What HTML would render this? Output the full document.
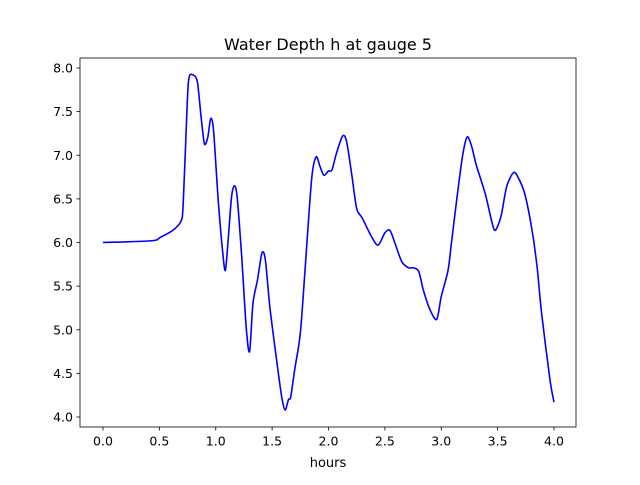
<!DOCTYPE html>
<html><head><meta charset="utf-8"><style>
body{margin:0;background:#fff}
svg text{font-family:"DejaVu Sans","Liberation Sans",sans-serif;fill:#000}
</style></head><body>
<svg id="chart" width="640" height="480" xmlns="http://www.w3.org/2000/svg">
<rect width="640" height="480" fill="#fff"/>
<text x="328" y="50" font-size="16" text-anchor="middle">Water Depth h at gauge 5</text>
<g id="ticks"></g>
<path id="line" fill="none" stroke="#0000ff" stroke-width="1.6" stroke-linejoin="round"/>
<rect x="80" y="58" width="496" height="369" fill="none" stroke="#000" stroke-width="0.8"/>
<text x="328" y="467" font-size="13" text-anchor="middle">hours</text>
</svg>
<script>
const hours=[0,0.43,0.51,0.62,0.69,0.71,0.74,0.755,0.77,0.80,0.82,0.84,0.87,0.90,0.93,0.955,0.98,1.02,1.06,1.085,1.11,1.14,1.165,1.19,1.23,1.27,1.30,1.33,1.37,1.41,1.44,1.48,1.54,1.585,1.615,1.645,1.665,1.70,1.75,1.79,1.85,1.89,1.925,1.96,2.0,2.03,2.07,2.125,2.16,2.205,2.25,2.30,2.38,2.44,2.50,2.545,2.59,2.65,2.71,2.75,2.80,2.84,2.90,2.96,3.00,3.06,3.09,3.14,3.19,3.23,3.27,3.31,3.39,3.45,3.48,3.53,3.58,3.64,3.68,3.74,3.80,3.85,3.89,3.965,4.0];
const depth=[6.0,6.02,6.06,6.14,6.24,6.41,7.37,7.8,7.92,7.92,7.9,7.82,7.44,7.13,7.21,7.42,7.29,6.52,5.91,5.68,6.03,6.52,6.65,6.52,5.84,5.03,4.75,5.30,5.57,5.88,5.80,5.26,4.65,4.23,4.08,4.20,4.23,4.54,4.96,5.65,6.72,6.98,6.87,6.77,6.82,6.83,7.02,7.22,7.16,6.79,6.39,6.28,6.07,5.97,6.11,6.14,5.99,5.78,5.71,5.71,5.67,5.46,5.23,5.12,5.38,5.68,5.99,6.52,7.00,7.21,7.10,6.89,6.56,6.23,6.14,6.30,6.64,6.80,6.75,6.56,6.18,5.72,5.19,4.42,4.17];
const xTicks=[0,0.5,1,1.5,2,2.5,3,3.5,4];
const yTicks=[4,4.5,5,5.5,6,6.5,7,7.5,8];
const X=h=>103+h*112.75, Y=v=>417-(v-4)*87.25;
const NS="http://www.w3.org/2000/svg", g=document.getElementById('ticks');
function mk(t,a){const e=document.createElementNS(NS,t);for(const k in a)e.setAttribute(k,a[k]);g.appendChild(e);return e;}
xTicks.forEach(t=>{
 const l=mk('line',{x1:X(t),x2:X(t),y1:427,y2:430.5,stroke:'#000','stroke-width':0.8});
 
 
 const s=mk('text',{x:X(t),y:445.5,'font-size':12.5,'text-anchor':'middle'});s.textContent=t.toFixed(1);
 
 
});
yTicks.forEach(t=>{
 const l=mk('line',{x1:76.5,x2:80,y1:Y(t),y2:Y(t),stroke:'#000','stroke-width':0.8});
 
 
 const s=mk('text',{x:73,y:Y(t)+4.5,'font-size':12.5,'text-anchor':'end'});s.textContent=t.toFixed(1);
 
 
});
const P=hours.map((h,i)=>[X(h),Y(depth[i])]);
let d='M'+P[0][0]+','+P[0][1];
for(let i=0;i<P.length-1;i++){
 const p0=P[Math.max(0,i-1)],p1=P[i],p2=P[i+1],p3=P[Math.min(P.length-1,i+2)];
 const c1=[p1[0]+(p2[0]-p0[0])/7,p1[1]+(p2[1]-p0[1])/7],c2=[p2[0]-(p3[0]-p1[0])/7,p2[1]-(p3[1]-p1[1])/7];
 d+=` C${c1[0]},${c1[1]} ${c2[0]},${c2[1]} ${p2[0]},${p2[1]}`;
}
document.getElementById('line').setAttribute('d',d);
</script>
</body></html>
